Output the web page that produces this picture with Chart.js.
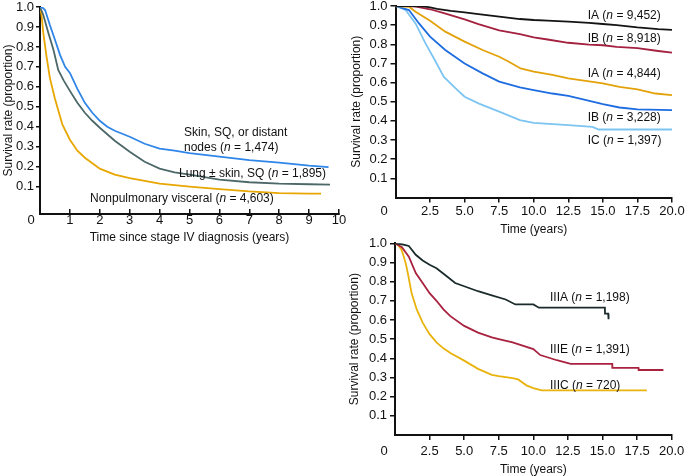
<!DOCTYPE html>
<html>
<head>
<meta charset="utf-8">
<script src="https://cdn.jsdelivr.net/npm/chart.js@4.4.1/dist/chart.umd.min.js"></script>
<style>
body{margin:0;background:#fff;width:685px;height:476px;position:relative;overflow:hidden;}
canvas{position:absolute;}
</style>
</head>
<body>
<canvas id="c1" width="352" height="246" style="left:0;top:0"></canvas>
<canvas id="c2" width="340" height="242" style="left:345px;top:0"></canvas>
<canvas id="c3" width="340" height="240" style="left:345px;top:236px"></canvas>
<script>
// ==================== data: stage IV by site (top left) ====================
const skinTime = [0,0.1,0.17,0.33,0.5,0.67,0.84,1.0,1.25,1.5,1.75,2.0,2.25,2.5,2.75,3.0,3.5,4.0,4.5,5,6,7,8,9,9.65];
const skinSurv = [1.0,0.995,0.985,0.91,0.836,0.76,0.70,0.67,0.59,0.52,0.47,0.43,0.40,0.38,0.365,0.35,0.315,0.29,0.28,0.268,0.25,0.233,0.22,0.205,0.198];
const lungTime = [0,0.11,0.28,0.45,0.61,0.8,1.0,1.25,1.5,1.75,2.0,2.5,3.0,3.5,4,4.5,5,6,7,8,9,9.7];
const lungSurv = [1.0,0.96,0.87,0.786,0.685,0.63,0.58,0.52,0.47,0.43,0.395,0.33,0.275,0.225,0.19,0.172,0.16,0.135,0.122,0.115,0.112,0.11];
const visceralTime = [0,0.05,0.11,0.22,0.33,0.5,0.75,1.0,1.25,1.5,2.0,2.5,3,4,5,6,7,8,9,9.4];
const visceralSurv = [1.0,0.96,0.87,0.75,0.645,0.54,0.41,0.335,0.28,0.245,0.19,0.16,0.143,0.115,0.1,0.088,0.076,0.068,0.065,0.065];

// ==================== data: stage I/II (top right) ====================
const iaTime = [0,1,2,2.5,3,4,5,6,7.5,9,10,11,12.5,14,15,16,17.5,19,20];
const iaSurv = [1,1,0.998,0.993,0.985,0.975,0.967,0.958,0.944,0.932,0.927,0.924,0.918,0.912,0.906,0.9,0.888,0.879,0.875];
const ibTime = [0,1,1.5,2.5,3.5,5,6,7.5,9,10,11,12.5,14,15,16,17.5,19,20];
const ibSurv = [1,1,0.997,0.983,0.963,0.93,0.905,0.873,0.853,0.836,0.825,0.808,0.798,0.795,0.787,0.78,0.765,0.756];
const iiaTime = [0,1,1.45,2.5,3.6,5,6.3,7.5,8.2,9.05,10,11.35,12.5,15,16.2,17.5,18.8,20];
const iiaSurv = [1,0.995,0.97,0.923,0.866,0.814,0.77,0.735,0.709,0.674,0.657,0.64,0.622,0.596,0.578,0.565,0.543,0.535];
const iibTime = [0,0.97,1.7,2.5,3.6,5,6.3,7.5,9,10,11.35,12.5,13.8,15,16.2,17.5,20];
const iibSurv = [1,0.979,0.909,0.84,0.77,0.70,0.648,0.605,0.575,0.561,0.543,0.531,0.509,0.488,0.47,0.46,0.456];
const iicTime = [0,0.72,1.45,2.17,2.78,3.5,4.35,5,6.04,7.5,9,10,12.5,14.25,14.7,20];
const iicSurv = [1,0.98,0.909,0.805,0.726,0.63,0.57,0.526,0.49,0.448,0.404,0.39,0.378,0.369,0.355,0.355];

// ==================== data: stage III (bottom right) ====================
const iiiaTime = [0,0.5,1,1.5,2,2.5,3,3.6,4.35,5,6,7,8,8.7,10,10.4,15.17,15.18,15.41,15.42,15.45];
const iiiaSurv = [1,0.995,0.986,0.94,0.91,0.888,0.87,0.836,0.793,0.776,0.75,0.728,0.707,0.681,0.681,0.664,0.664,0.633,0.633,0.604,0.604];
const iiieTime = [0,0.5,1,1.5,2,2.5,3,3.5,4,5,6,7,7.5,8.5,10,10.5,11.7,12.7,15.7,15.71,17.6,17.61,19.4];
const iiieSurv = [1,0.98,0.93,0.845,0.793,0.74,0.7,0.655,0.62,0.569,0.534,0.509,0.5,0.483,0.448,0.417,0.39,0.371,0.371,0.35,0.35,0.339,0.339];
const iiicTime = [0,0.24,0.48,0.68,0.8,0.97,1.2,1.57,2.0,2.5,3,3.5,4,5,6,7,7.5,8.5,8.9,9.5,10,10.6,11.35,18.2];
const iiicSurv = [1,0.99,0.965,0.92,0.888,0.828,0.74,0.655,0.586,0.526,0.483,0.452,0.428,0.388,0.345,0.314,0.307,0.297,0.29,0.259,0.245,0.233,0.233,0.233];

// ==================== ticks and label texts ====================
const yTicks = [0.1,0.2,0.3,0.4,0.5,0.6,0.7,0.8,0.9,1.0];
const p1XTicks = [1,2,3,4,5,6,7,8,9,10];
const yearTicks = [2.5,5,7.5,10,12.5,15,17.5,20];
const p2Names = ['IA','IB','IA','IB','IC'];
const p2Counts = ['9,452','8,918','4,844','3,228','1,397'];
const p3Names = ['IIIA','IIIE','IIIC'];
const p3Counts = ['1,198','1,391','720'];

const FONT = '"Liberation Sans", Arial, Helvetica, sans-serif';
Chart.defaults.font.family = FONT;
Chart.defaults.color = '#111';

function pts(t, s){
  return t.map((x,i)=>({x:x, y:s[i]}));
}

function line(t, s, color){
  return {data:pts(t,s), borderColor:color, borderWidth:1.8, pointRadius:0, tension:0, fill:false};
}

// draws curve labels (every 2nd part italic) and the shared origin "0"
const textPlugin = {
  id:'curveText',
  afterDraw(chart, args, opts){
    const ctx = chart.ctx;
    ctx.save();
    ctx.fillStyle = '#111';
    ctx.textBaseline = 'middle';
    ctx.textAlign = 'left';
    (opts.items||[]).forEach(it=>{
      let x = it.x;
      it.parts.forEach((p,i)=>{
        ctx.font = (i%2===1 ? 'italic ' : '') + '12px ' + FONT;
        ctx.fillText(p, x, it.y);
        x += ctx.measureText(p).width;
      });
    });
    if(opts.zero){
      ctx.font = '13px ' + FONT;
      ctx.textAlign = 'center';
      ctx.fillText('0', opts.zero.x, opts.zero.y);
    }
    ctx.restore();
  }
};

function makeChart(id, datasets, cfg){
  return new Chart(document.getElementById(id), {
    type:'line',
    data:{datasets:datasets},
    plugins:[textPlugin],
    options:{
      responsive:false,
      animation:false,
      layout:{padding:cfg.padding},
      plugins:{legend:{display:false}, tooltip:{enabled:false}, curveText:cfg.text},
      scales:{
        x:{
          type:'linear', min:0, max:cfg.xMax,
          border:{color:'#111', width:2},
          grid:{drawOnChartArea:false, color:'#111', lineWidth:1.5, tickLength:cfg.xTick},
          ticks:{padding:cfg.xPad, font:{size:13}, callback:cfg.xFmt},
          afterBuildTicks:s=>{ s.ticks = cfg.xTicks.map(v=>({value:v})); },
          afterFit:s=>{ s.height = cfg.xHeight; s.paddingLeft = 0; s.paddingRight = 0; },
          title:{display:true, text:cfg.xTitle, font:{size:12}, padding:{top:0, bottom:cfg.xTitlePad}}
        },
        y:{
          min:cfg.yMin, max:1.0,
          border:{color:'#111', width:2},
          grid:{drawOnChartArea:false, color:'#111', lineWidth:1.5, tickLength:cfg.yTick},
          ticks:{padding:cfg.yPad, font:{size:13}, callback:v=>v.toFixed(1)},
          afterBuildTicks:s=>{ s.ticks = yTicks.map(v=>({value:v})); },
          afterFit:s=>{ s.width = cfg.yWidth; s.paddingTop = 0; s.paddingBottom = 0; },
          title:{display:true, text:'Survival rate (proportion)', font:{size:12}, padding:{top:cfg.yTitlePad, bottom:0}}
        }
      }
    }
  });
}

// ==================== top left ====================
makeChart('c1', [
  line(skinTime, skinSurv, '#2f86e8'),
  line(lungTime, lungSurv, '#4d6868'),
  line(visceralTime, visceralSurv, '#e8a600')
], {
  padding:{left:0, right:13, top:7, bottom:0},
  xMax:10, xTicks:p1XTicks, xFmt:v=>String(v), xTick:-5, xPad:4, xHeight:32,
  xTitle:'Time since stage IV diagnosis (years)', xTitlePad:1,
  yMin:-0.037, yTick:4, yPad:2, yWidth:40, yTitlePad:1,
  text:{
    items:[
      {x:184, y:133, parts:['Skin, SQ, or distant']},
      {x:184, y:148, parts:['nodes (', 'n', ' = 1,474)']},
      {x:179, y:174, parts:['Lung \u00b1 skin, SQ (', 'n', ' = 1,895)']},
      {x:90, y:199, parts:['Nonpulmonary visceral (', 'n', ' = 4,603)']}
    ],
    zero:{x:31, y:220}
  }
});

// ==================== top right ====================
const p2Colors = ['#141414','#a3203f','#e3a20a','#1e6de0','#7cc4f2'];
makeChart('c2', [
  line(iaTime, iaSurv, p2Colors[0]),
  line(ibTime, ibSurv, p2Colors[1]),
  line(iiaTime, iiaSurv, p2Colors[2]),
  line(iibTime, iibSurv, p2Colors[3]),
  line(iicTime, iicSurv, p2Colors[4])
], {
  padding:{left:0, right:13, top:6, bottom:0},
  xMax:20, xTicks:yearTicks, xFmt:v=>v.toFixed(1), xTick:5, xPad:1.5, xHeight:44.5,
  xTitle:'Time (years)', xTitlePad:4.8,
  yMin:0, yTick:5, yPad:3, yWidth:50.5, yTitlePad:4.5,
  text:{
    items:p2Names.map((nm,i)=>({x:242.7, y:[16,39,74,118,141][i], parts:[nm+' (', 'n', ' = '+p2Counts[i]+')']})),
    zero:{x:39, y:211.7}
  }
});

// ==================== bottom right ====================
makeChart('c3', [
  line(iiiaTime, iiiaSurv, '#1b2b2b'),
  line(iiieTime, iiieSurv, '#a8223f'),
  line(iiicTime, iiicSurv, '#e8b30c')
], {
  padding:{left:0, right:13.3, top:7.3, bottom:0},
  xMax:20, xTicks:yearTicks, xFmt:v=>v.toFixed(1), xTick:5, xPad:3.5, xHeight:41,
  xTitle:'Time (years)', xTitlePad:-1,
  yMin:0, yTick:5, yPad:3, yWidth:50, yTitlePad:2.8,
  text:{
    items:p3Names.map((nm,i)=>({x:205, y:[61.7,114,149.3][i], parts:[nm+' (', 'n', ' = '+p3Counts[i]+')']})),
    zero:{x:39, y:215}
  }
});
</script>
</body>
</html>
